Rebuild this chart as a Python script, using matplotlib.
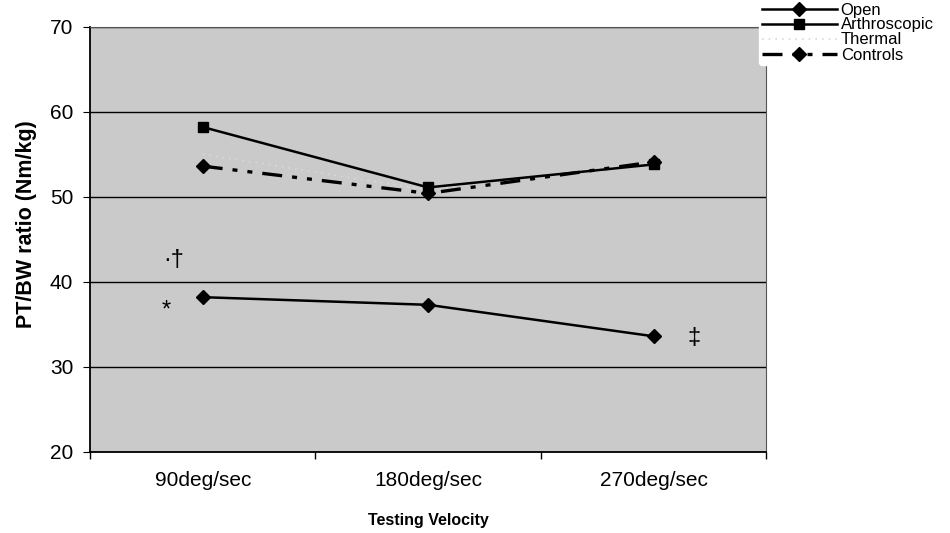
import matplotlib
matplotlib.use("Agg")
import matplotlib.pyplot as plt

plt.rcParams['font.family'] = ['Liberation Sans', 'DejaVu Sans']

categories = ["90deg/sec", "180deg/sec", "270deg/sec"]
open_vals = [38.2, 37.3, 33.6]
arthro_vals = [58.2, 51.1, 53.8]
thermal_vals = [55.0, 50.8, 54.2]
control_vals = [53.6, 50.4, 54.1]
y_ticks = [20, 30, 40, 50, 60, 70]

fig = plt.figure(figsize=(9.5, 5.33), dpi=100)
ax = fig.add_axes([0.0947, 0.152, 0.712, 0.798])
ax.set_facecolor('#cacaca')

x = list(range(len(categories)))
ax.plot(x, open_vals, color='black', lw=1.8, marker='D', ms=7, label='Open', zorder=4)
ax.plot(x, arthro_vals, color='black', lw=1.8, marker='s', ms=7, label='Arthroscopic', zorder=4)
ax.plot(x, thermal_vals, color='#d8d8d8', lw=1.2, ls=(0, (1, 3)), label='Thermal', zorder=3)
ax.plot(x, control_vals, color='black', lw=2.4, marker='D', ms=7,
        ls=(0, (6, 3, 1.5, 3, 1.5, 3)), label='Controls', zorder=4)

ax.set_xlim(-0.5, 2.5)
ax.set_ylim(20, 70)
ax.set_yticks(y_ticks)
ax.yaxis.grid(True, color='black', lw=1.0)
ax.set_axisbelow(True)

ax.set_xticks(x)
ax.set_xticklabels(categories, fontsize=15)
ax.tick_params(axis='x', which='major', length=0, pad=14)
ax.set_xticks([-0.5, 0.5, 1.5, 2.5], minor=True)
ax.tick_params(axis='x', which='minor', length=5, direction='out', width=1)
ax.tick_params(axis='y', labelsize=15, length=5, direction='out', pad=7)

for s in ['left', 'bottom']:
    ax.spines[s].set_color('black')
    ax.spines[s].set_linewidth(1.3)
for s in ['top', 'right']:
    ax.spines[s].set_color('#555555')
    ax.spines[s].set_linewidth(0.8)

ax.set_ylabel('PT/BW ratio (Nm/kg)', fontsize=15.5, fontweight='bold')
ax.yaxis.set_label_coords(-0.078, 0.536)
ax.set_xlabel('Testing Velocity', fontsize=11.5, fontweight='bold', labelpad=16)

# annotations
ax.text(-0.16, 36.6, '*', fontsize=17, ha='center', va='center')
ax.text(-0.13, 42.6, '·†', fontsize=17, ha='center', va='center')
ax.text(2.18, 33.4, '‡', fontsize=17, ha='center', va='center')

handles, labels = ax.get_legend_handles_labels()
leg = fig.legend(handles, labels, loc='upper left', bbox_to_anchor=(0.799, 1.0),
                 frameon=True, fontsize=12, handlelength=4.5, handletextpad=0.25,
                 labelspacing=0.0, borderpad=0.15, borderaxespad=0)
leg.get_frame().set_facecolor('white')
leg.get_frame().set_edgecolor('white')
leg.get_frame().set_alpha(1)

fig.savefig('out.png', dpi=100)
